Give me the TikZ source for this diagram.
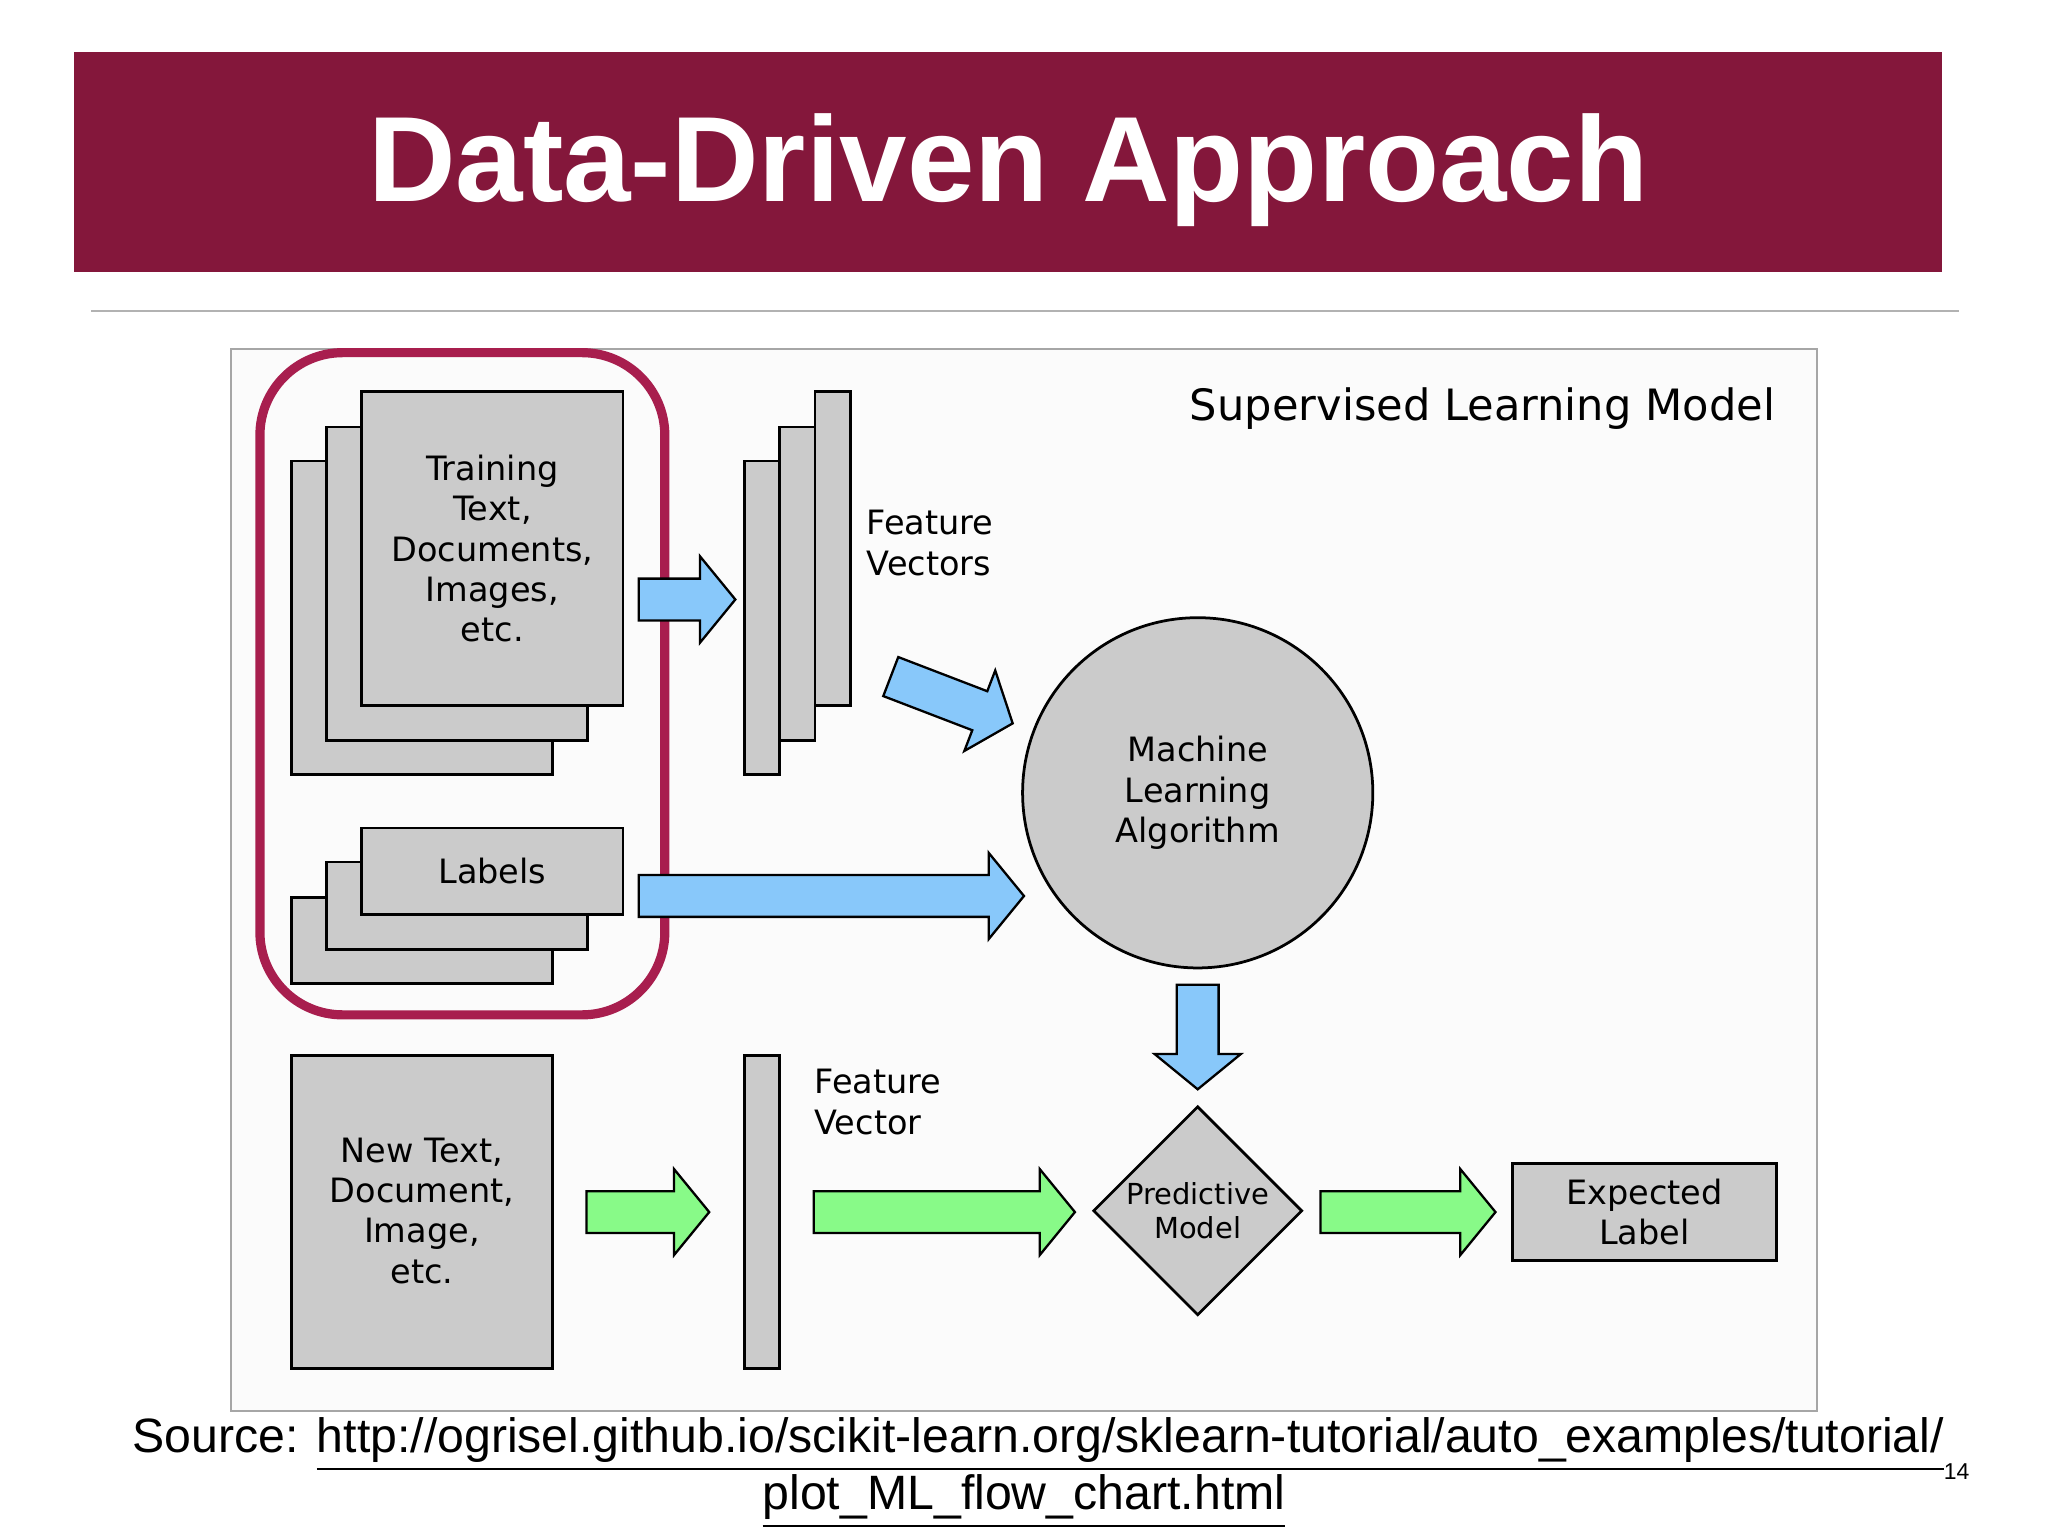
\documentclass[tikz,border=0pt]{standalone}
\usepackage{fontspec}
\setmainfont{Liberation Sans}
\newfontfamily\dejavu{DejaVu Sans}
\usetikzlibrary{shapes.geometric, positioning}

\definecolor{banner}{HTML}{84173B}
\definecolor{hilite}{HTML}{A81E4E}
\definecolor{docgray}{HTML}{CBCBCB}
\definecolor{bluearrow}{HTML}{88C8FA}
\definecolor{greenarrow}{HTML}{88FA88}

% fat block arrow: colour, tail point, angle, length
\newcommand{\fatarrow}[4]{%
  \begin{scope}[shift={(#2)},rotate=#3]
    \draw[fill=#1, line width=0.5pt, line join=miter]
      (0,-16) -- (#4-27,-16) -- (#4-27,-33) -- (#4,0) -- (#4-27,33) -- (#4-27,16) -- (0,16) -- cycle;
  \end{scope}}

\begin{document}
\begin{tikzpicture}[
    x=0.01cm, y=-0.01cm,
    doc/.style={draw, fill=docgray, line width=0.6pt},
    txt/.style={font=\dejavu\fontsize{7.3}{8.8}\selectfont, align=center},
    lbl/.style={font=\dejavu\fontsize{7.3}{8.8}\selectfont, align=left, anchor=north west, inner sep=0pt}
]
\useasboundingbox (0,0) rectangle (1568,1176);

% banner
\fill[banner] (57,40) rectangle (1487,208);
\node (title) at (772,130) [text=white, font=\bfseries\fontsize{26.4}{32}\selectfont] {Data-Driven Approach};
\draw[gray!60, line width=0.4pt] (70,238) -- (1500,238);

% diagram frame
\draw[gray!70, fill=gray!3, line width=0.4pt] (177,267) rectangle (1391,1080);
\node (smtitle) at (1135,313) [font=\dejavu\fontsize{9.4}{11}\selectfont] {Supervised Learning Model};

% training documents
\draw[doc] (223,353) rectangle (423,593);
\draw[doc] (250,327) rectangle (450,567);
\draw[doc] (277,300) rectangle (477,540);
\node (train) at (377,420) [txt] {Training\\Text,\\Documents,\\Images,\\etc.};

% labels
\draw[doc] (223,687) rectangle (423,753);
\draw[doc] (250,660) rectangle (450,727);
\draw[doc] (277,634) rectangle (477,700);
\node (labels) at (377,667) [txt] {Labels};

% feature vectors
\draw[doc] (570,353) rectangle (597,593);
\draw[doc] (597,327) rectangle (624,567);
\draw[doc] (624,300) rectangle (651,540);
\node (fvs) at (663,390) [lbl] {Feature\\Vectors};

% highlight
\draw[hilite, line width=2pt, rounded corners=18] (199,270) rectangle (509,777);

% algorithm
\node (algo) at (917,607) [circle, draw, fill=docgray, line width=0.6pt, minimum size=2.68cm, txt] {Machine\\Learning\\Algorithm};

% new document
\draw[doc] (223,808) rectangle (423,1048);
\node (newdoc) at (323,927) [txt] {New Text,\\Document,\\Image,\\etc.};
\draw[doc] (570,808) rectangle (597,1048);
\node (fv) at (623,818) [lbl] {Feature\\Vector};

\node (model) at (917,927) [diamond, draw, fill=docgray, line width=0.6pt, minimum size=1.6cm, inner sep=0pt,
    font=\dejavu\fontsize{6.3}{7.5}\selectfont, align=center] {Predictive\\Model};
\node (expected) at (1259,928) [rectangle, draw, fill=docgray, line width=0.6pt, minimum width=2.02cm, minimum height=0.67cm, txt] {Expected\\Label};

% blue arrows
\fatarrow{bluearrow}{682,518}{-21}{100}
\fatarrow{bluearrow}{489,459}{0}{74}
\fatarrow{bluearrow}{489,686}{0}{295}
\fatarrow{bluearrow}{917,754}{-90}{80}
% green arrows
\fatarrow{greenarrow}{449,928}{0}{94}
\fatarrow{greenarrow}{623,928}{0}{200}
\fatarrow{greenarrow}{1011,928}{0}{134}

% source
\node (src) at (795,1106) [font=\fontsize{10.5}{12.5}\selectfont] {Source: \underline{http://ogrisel.github.io/scikit-learn.org/sklearn-tutorial/auto\_examples/tutorial/}};
\node (src2) at (784,1150) [font=\fontsize{10.5}{12.5}\selectfont] {\underline{plot\_ML\_flow\_chart.html}};
\node (page) at (1498,1127) [font=\fontsize{5}{6}\selectfont] {14};
\end{tikzpicture}
\end{document}
